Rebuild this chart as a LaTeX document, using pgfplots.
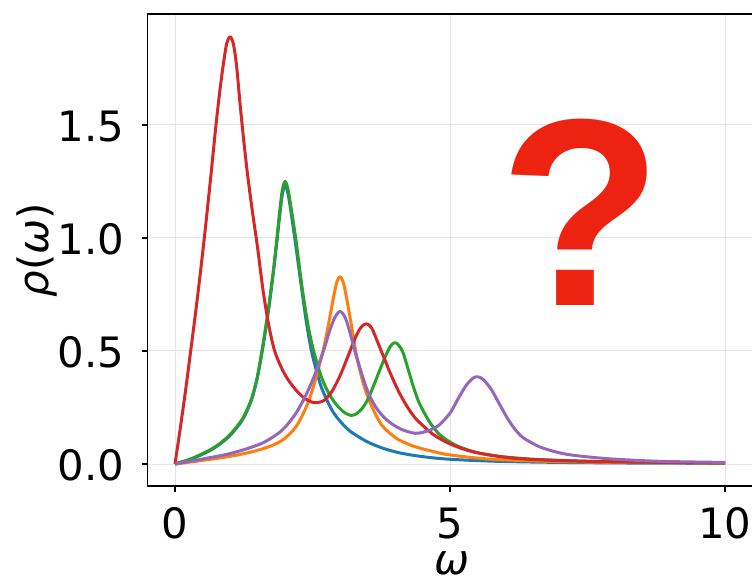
\documentclass[border=0pt]{standalone}
\usepackage{fontspec}
\setmainfont{DejaVu Sans}
\newfontfamily\qfont{Liberation Sans}
\usepackage{pgfplots}
\pgfplotsset{compat=1.18}

\definecolor{c0}{HTML}{1F77B4}
\definecolor{c1}{HTML}{FF7F0E}
\definecolor{c2}{HTML}{2CA02C}
\definecolor{c3}{HTML}{D62728}
\definecolor{c4}{HTML}{9467BD}
\definecolor{qred}{RGB}{238,34,17}

\begin{document}
\begin{tikzpicture}
\useasboundingbox (0,0) rectangle (752bp,581bp);
\begin{axis}[
  at={(147.5bp,95bp)}, anchor=south west,
  scale only axis, width=605bp, height=472bp,
  xmin=-0.5, xmax=10.5, ymin=-0.0973, ymax=1.991,
  xtick={0,5,10}, xticklabels={0,5,10},
  ytick={0,0.5,1,1.5}, yticklabels={0.0,0.5,1.0,1.5},
  tick pos=left, tick align=outside,
  major tick length=6bp,
  tick style={line width=1.1bp, black},
  axis line style={line width=1.1bp},
  grid=major, major grid style={line width=1bp, black!10},
  ticklabel style={font=\fontsize{42}{48}\selectfont, inner sep=0pt},
  xticklabel style={anchor=base, yshift=-46bp},
  yticklabel style={anchor=base east, xshift=-17bp, yshift=-16.5bp},
  label style={font=\fontsize{42}{48}\selectfont, inner sep=0pt},
  xlabel={\textit{ω}},
  ylabel={\textit{ρ}(\textit{ω})},
  xlabel style={at={(axis description cs:0.503,-0.164)}, anchor=center},
  ylabel style={at={(axis description cs:-0.183,0.5)}, anchor=center},
  every axis plot/.append style={line width=3bp, smooth, line join=round},
]
% blue
\addplot[c0] coordinates {
(0,0)(0.3,0.022)(0.6,0.055)(0.8,0.085)(1.0,0.126)(1.2,0.185)(1.3,0.23)(1.4,0.29)
(1.5,0.385)(1.6,0.52)(1.7,0.68)(1.8,0.87)(1.9,1.09)(1.95,1.19)(2.0,1.235)(2.05,1.20)
(2.1,1.13)(2.2,0.96)(2.3,0.78)(2.4,0.61)(2.5,0.48)(2.64,0.355)(2.75,0.288)(2.88,0.228)
(3.0,0.19)(3.18,0.146)(3.49,0.099)(3.79,0.069)(4.09,0.049)(4.4,0.036)(4.7,0.027)(5.0,0.021)
(5.5,0.015)(6.0,0.011)(7.0,0.007)(8.5,0.004)(10,0.003)};
% orange
\addplot[c1] coordinates {
(0,0)(0.5,0.016)(1.0,0.034)(1.4,0.054)(1.7,0.076)(1.95,0.105)(2.2,0.165)(2.4,0.26)
(2.55,0.37)(2.7,0.51)(2.8,0.63)(2.9,0.76)(2.95,0.81)(3.0,0.829)(3.05,0.81)(3.1,0.76)
(3.2,0.625)(3.3,0.48)(3.42,0.36)(3.55,0.27)(3.75,0.175)(4.0,0.118)(4.2,0.092)(4.4,0.074)
(4.7,0.055)(5.0,0.04)(5.7,0.022)(6.6,0.013)(7.7,0.008)(9,0.005)(10,0.004)};
% green
\addplot[c2] coordinates {
(0,0)(0.3,0.024)(0.6,0.058)(0.8,0.088)(1.0,0.13)(1.2,0.19)(1.3,0.235)(1.4,0.295)
(1.5,0.39)(1.6,0.53)(1.7,0.69)(1.8,0.88)(1.9,1.11)(1.95,1.21)(2.0,1.25)(2.05,1.22)
(2.1,1.15)(2.2,0.99)(2.3,0.80)(2.4,0.64)(2.5,0.52)(2.64,0.40)(2.76,0.33)(2.88,0.28)
(3.0,0.245)(3.1,0.225)(3.2,0.215)(3.3,0.222)(3.4,0.245)(3.5,0.283)(3.6,0.34)(3.73,0.42)
(3.85,0.49)(3.93,0.525)(4.0,0.537)(4.07,0.525)(4.15,0.49)(4.25,0.41)(4.35,0.33)
(4.45,0.265)(4.6,0.197)(4.7,0.162)(4.82,0.128)(5.0,0.097)(5.2,0.073)(5.55,0.047)
(6.0,0.031)(6.6,0.02)(7.5,0.012)(8.5,0.008)(10,0.005)};
% red
\addplot[c3] coordinates {
(0,0)(0.1,0.165)(0.2,0.34)(0.285,0.50)(0.4,0.72)(0.533,1.0)(0.65,1.27)(0.745,1.50)
(0.82,1.66)(0.88,1.77)(0.94,1.86)(1.0,1.89)(1.06,1.86)(1.12,1.76)(1.2,1.55)(1.3,1.32)
(1.4,1.13)(1.5,0.96)(1.6,0.77)(1.7,0.62)(1.8,0.51)(1.9,0.445)(2.0,0.395)(2.1,0.358)
(2.2,0.327)(2.35,0.292)(2.52,0.272)(2.7,0.28)(2.85,0.32)(3.0,0.39)(3.15,0.48)(3.3,0.57)
(3.4,0.61)(3.49,0.62)(3.58,0.60)(3.7,0.53)(3.8,0.47)(3.9,0.41)(4.0,0.355)(4.1,0.305)
(4.25,0.243)(4.4,0.195)(4.7,0.13)(5.0,0.089)(5.4,0.055)(6.0,0.03)(6.6,0.019)(7.7,0.011)
(9,0.007)(10,0.005)};
% purple
\addplot[c4] coordinates {
(0,0)(0.5,0.022)(1.0,0.046)(1.4,0.075)(1.65,0.10)(1.95,0.15)(2.2,0.225)(2.4,0.315)
(2.55,0.40)(2.7,0.50)(2.8,0.58)(2.9,0.645)(3.0,0.675)(3.1,0.645)(3.2,0.565)(3.3,0.475)
(3.49,0.33)(3.65,0.252)(3.85,0.195)(4.1,0.155)(4.37,0.136)(4.6,0.147)(4.8,0.172)(5.0,0.225)
(5.15,0.29)(5.3,0.35)(5.42,0.38)(5.5,0.386)(5.6,0.375)(5.75,0.33)(5.9,0.265)(6.05,0.2)
(6.2,0.148)(6.35,0.113)(6.65,0.074)(7.0,0.049)(7.3,0.037)(7.9,0.023)(8.8,0.012)(10,0.007)};
\node[text=qred, anchor=base, inner sep=0pt,
  font=\qfont\bfseries\fontsize{268}{268}\selectfont] at (axis cs:7.38,0.7035) {?};
\end{axis}
\end{tikzpicture}
\end{document}
